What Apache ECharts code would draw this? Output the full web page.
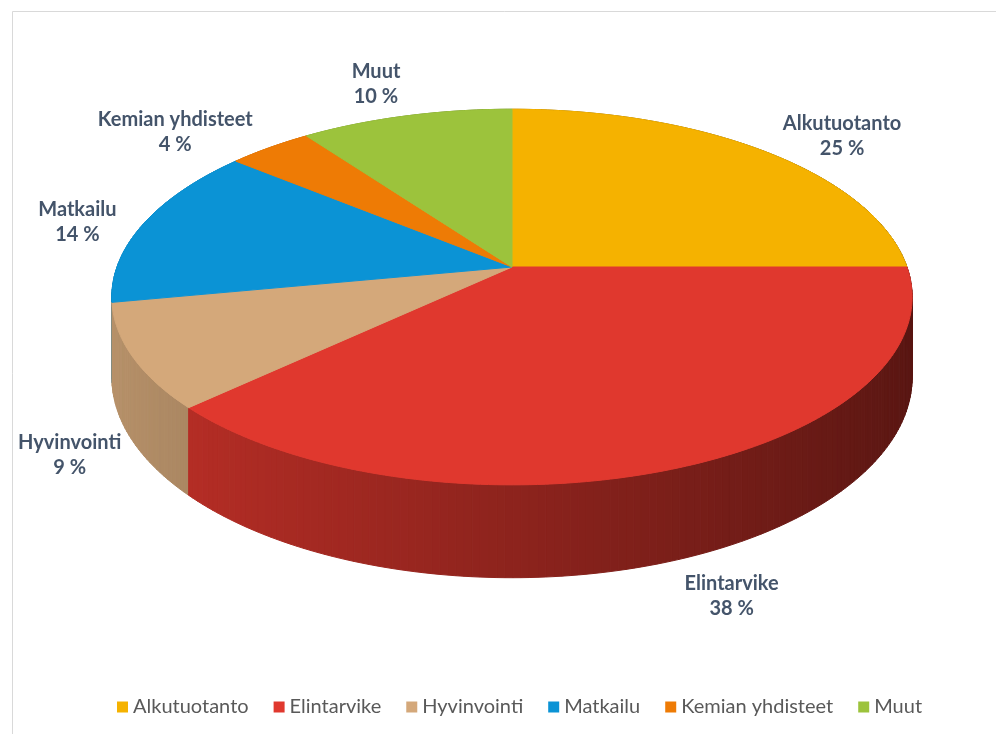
<!DOCTYPE html>
<html>
<head>
<meta charset="utf-8">
<script src="https://cdn.jsdelivr.net/npm/echarts@6/dist/echarts.min.js"></script>
<style>
  html, body { margin: 0; padding: 0; background: #fff; }
  #chart { width: 996px; height: 734px; }
</style>
</head>
<body>
<div id="chart"></div>
<script>
const categories = ["Alkutuotanto", "Elintarvike", "Hyvinvointi", "Matkailu", "Kemian yhdisteet", "Muut"];
const values = [25, 38, 9, 14, 4, 10];
const colors = ["#f5b200", "#e0382e", "#d4a87a", "#0b93d5", "#ee7b05", "#9cc33c"];

// fake 3d pie: a tilted disc seen with a bit of perspective
const cx = 512, cy = 267, rx = 395, ry = 183, persp = 0.16, depth = 78;
const total = values.reduce((a, b) => a + b, 0);
const labelFont = "bold 20px Lato";

const measure = document.createElement("canvas").getContext("2d");
measure.font = labelFont;

function project(theta) {
  const u = Math.sin(theta), v = -Math.cos(theta);
  const s = 1 / (1 - persp * v);
  return { x: cx + rx * u * s, y: cy + ry * v * s, s: s, u: u, v: v };
}

function shade(hex, f) {
  const n = parseInt(hex.slice(1), 16);
  const r = Math.round(((n >> 16) & 255) * f);
  const g = Math.round(((n >> 8) & 255) * f);
  const b = Math.round((n & 255) * f);
  return "rgb(" + r + "," + g + "," + b + ")";
}

function makeRender(i) {
  return function (params, api) {
    let before = 0;
    for (let k = 0; k < i; k++) before += values[k];
    const a0 = before / total * Math.PI * 2;
    const a1 = (before + api.value(0)) / total * Math.PI * 2;
    const steps = Math.max(2, Math.ceil((a1 - a0) / (Math.PI / 180)));
    const children = [];
    const rim = [];
    for (let k = 0; k <= steps; k++) rim.push(project(a0 + (a1 - a0) * k / steps));

    // outer wall, far strips first
    for (let k = 0; k < steps; k++) {
      const p = rim[k], q = rim[k + 1];
      const um = (p.u + q.u) / 2, vm = (p.v + q.v) / 2;
      const c = shade(colors[i], 0.63 - 0.24 * um);
      children.push({
        type: "polygon",
        z2: Math.round((vm + 1) * 400),
        shape: { points: [[p.x, p.y], [q.x, q.y], [q.x, q.y + depth * q.s], [p.x, p.y + depth * p.s]] },
        style: { fill: c, stroke: c, lineWidth: 1 }
      });
    }

    // top face
    const pts = [[cx, cy]].concat(rim.map(p => [p.x, p.y]));
    children.push({
      type: "polygon",
      z2: 2000,
      shape: { points: pts },
      style: { fill: colors[i], stroke: colors[i], lineWidth: 1 }
    });

    // label outside the slice, kept inside the frame
    const mid = project((a0 + a1) / 2);
    const name = categories[i];
    const pct = Math.round(api.value(0) / total * 100) + " %";
    const w = measure.measureText(name).width;
    let dx = rx * mid.u, dy = ry * mid.v;
    const len = Math.sqrt(dx * dx + dy * dy);
    dx /= len; dy /= len;
    const drop = depth * mid.s * Math.min(1, Math.max(0, mid.v * 3));
    const lx = Math.max(18 + w / 2, mid.x + dx * (28 + w / 2));
    const ly = mid.y + drop + dy * 44 + 4;
    children.push({
      type: "text",
      z2: 3000,
      style: {
        text: name + "\n" + pct,
        x: lx, y: ly,
        align: "center", verticalAlign: "middle",
        font: labelFont, lineHeight: 25,
        fill: "#44546a"
      }
    });
    return { type: "group", children: children };
  };
}

const chart = echarts.init(document.getElementById("chart"));
chart.setOption({
  animation: false,
  backgroundColor: "#fff",
  graphic: [{
    type: "rect",
    silent: true,
    shape: { x: 12.5, y: 11.5, width: 1000, height: 800 },
    style: { fill: null, stroke: "#d9d9d9", lineWidth: 1 }
  }],
  legend: {
    data: categories,
    bottom: 12,
    left: 112,
    icon: "rect",
    itemWidth: 11,
    itemHeight: 11,
    itemGap: 25,
    textStyle: { fontFamily: "Lato", fontSize: 20, color: "#595959" }
  },
  series: categories.map((name, i) => ({
    type: "custom",
    name: name,
    coordinateSystem: "none",
    itemStyle: { color: colors[i] },
    data: [values[i]],
    renderItem: makeRender(i)
  }))
});
</script>
</body>
</html>
